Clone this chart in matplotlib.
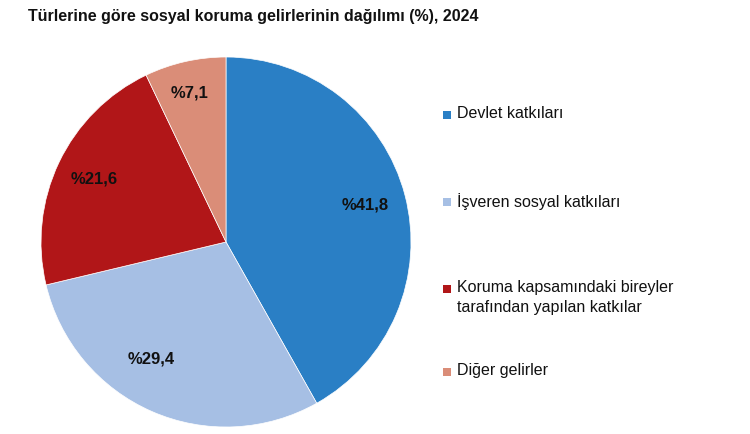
import numpy as np
import matplotlib.pyplot as plt
from matplotlib.patches import Rectangle

plt.rcParams['font.family'] = ['Liberation Sans', 'DejaVu Sans']

title = 'Türlerine göre sosyal koruma gelirlerinin dağılımı (%), 2024'
labels = ['Devlet katkıları',
          'İşveren sosyal katkıları',
          'Koruma kapsamındaki bireyler\ntarafından yapılan katkılar',
          'Diğer gelirler']
values = [41.8, 29.4, 21.6, 7.1]
value_text = ['%41,8', '%29,4', '%21,6', '%7,1']
colors = ['#2a7fc5', '#a6bfe4', '#b11618', '#da8d78']

fig = plt.figure(figsize=(7.5, 4.34), dpi=100)
ax = fig.add_axes([41 / 750, 7 / 434, 370 / 750, 370 / 434])

wedges, _ = ax.pie(values, colors=colors, startangle=90, counterclock=False,
                   wedgeprops=dict(edgecolor='white', linewidth=0.5))
ax.set_xlim(-1, 1)
ax.set_ylim(-1, 1)
ax.set_aspect('equal')

# value labels inside the wedges
lab_r = [0.78, 0.75, 0.79, 0.83]
lab_shift = [0, -9, 0, 1]
for w, t, r, s in zip(wedges, value_text, lab_r, lab_shift):
    ang = np.deg2rad((w.theta1 + w.theta2) / 2 + s)
    ax.text(r * np.cos(ang), r * np.sin(ang), t, ha='center', va='center',
            fontsize=12, fontweight='bold', color='#111111')

fig.text(28 / 750, 1 - 17 / 434, title, fontsize=11.5, fontweight='bold',
         ha='left', va='center', color='#111111')

# legend on the right
leg_y = [115, 202, 289, 372]
for lab, c, y in zip(labels, colors, leg_y):
    fig.patches.append(Rectangle((443 / 750, 1 - (y + 4) / 434), 8 / 750, 8 / 434,
                                 transform=fig.transFigure, facecolor=c,
                                 edgecolor='none'))
    fig.text(457 / 750, 1 - (y - 9) / 434, lab, fontsize=11.5, ha='left', va='top',
             color='#111111', linespacing=1.45)

fig.savefig('out.png', dpi=100)
